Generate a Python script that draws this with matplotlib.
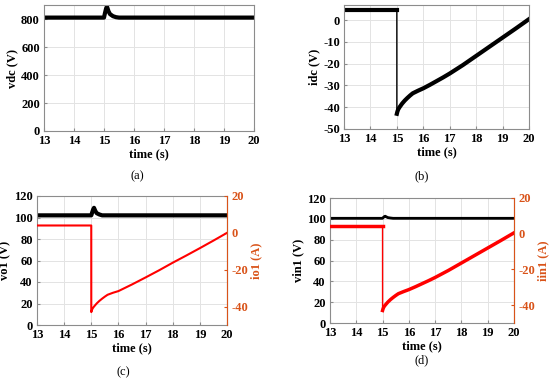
import numpy as np
import matplotlib
matplotlib.use('Agg')
import matplotlib.pyplot as plt

plt.rcParams['font.family'] = ['Liberation Serif', 'DejaVu Serif']
plt.rcParams['font.weight'] = 'bold'
plt.rcParams['axes.labelweight'] = 'bold'
plt.rcParams['axes.unicode_minus'] = False

# (a) dc link voltage
t_vdc = [13, 15.0, 15.03, 15.07, 15.1, 15.15, 15.2, 15.3, 15.4, 15.5, 20]
vdc = [810, 810, 840, 875, 888, 855, 835, 820, 813, 810, 810]

# (b) dc current, (c) io1, (d) iin1
t_i = [13, 14.999, 15.0, 15.02, 15.05, 15.1, 15.2, 15.3, 15.4, 15.5, 15.6,
       15.8, 16, 16.25, 16.5, 16.75, 17, 17.5, 18, 18.5, 19, 19.5, 20]
idc = [4.5, 4.5, -43, -42, -41, -40, -38.3, -36.9, -35.7, -34.6, -33.6,
       -32.4, -31.3, -29.7, -28, -26.3, -24.5, -20.6, -16.4, -12.2, -8,
       -3.8, 0.5]
io1 = [4, 4, -43, -42, -41, -40, -38.3, -36.9, -35.7, -34.6, -33.6,
       -32.5, -31.6, -29.8, -28, -26.1, -24.2, -20.3, -16.2, -12.3, -8.3,
       -4.2, 0]

# (c) output voltage
t_v = [13, 15.0, 15.03, 15.07, 15.1, 15.15, 15.2, 15.3, 15.4, 20]
vo1 = [102, 102, 104.5, 107.5, 109, 106, 104, 102.8, 102, 102]
# (d) input voltage
vin1 = [100.5, 100.5, 101.3, 102.2, 102.5, 101.8, 101.2, 100.8, 100.5, 100.5]

xticks = [13, 14, 15, 16, 17, 18, 19, 20]
orange = '#D95319'
spine_c = '#8c8c8c'
fs = 9

fig = plt.figure(figsize=(5.5, 3.82), dpi=100)
W, H = 550.0, 382.0


def make_ax(l, t, r, b):
    ax = fig.add_axes([l / W, 1 - b / H, (r - l) / W, (b - t) / H])
    ax.set_xlim(13, 20)
    ax.set_xticks(xticks)
    ax.grid(True, color='#e3e3e3', linewidth=0.7)
    ax.set_axisbelow(True)
    for s in ax.spines.values():
        s.set_color(spine_c)
        s.set_linewidth(0.8)
    ax.tick_params(direction='in', length=2.5, color=spine_c, labelsize=fs,
                   pad=3)
    ax.set_xlabel('time (s)', fontsize=fs, labelpad=1)
    return ax


def right_axis(ax, label):
    ax2 = ax.twinx()
    ax2.set_ylim(-50, 20)
    ax2.set_yticks([-40, -20, 0, 20])
    ax2.tick_params(direction='in', length=2.5, colors=orange, labelsize=fs,
                    pad=3)
    ax2.spines['right'].set_color(orange)
    for s in ['left', 'top', 'bottom']:
        ax2.spines[s].set_visible(False)
    ax2.set_ylabel(label, fontsize=fs, color=orange, labelpad=2)
    return ax2


ax = make_ax(44, 5, 254, 131)
ax.plot(t_vdc, vdc, color='black', lw=3)
ax.set_ylim(0, 900)
ax.set_yticks([0, 200, 400, 600, 800])
ax.set_ylabel('vdc (V)', fontsize=fs, labelpad=2)
fig.text(137 / W, 1 - 176 / H, '(a)', ha='center', va='center', fontsize=9,
         fontweight='normal')

ax = make_ax(344, 5, 529, 129)
ax.plot(t_i[:2], idc[:2], color='black', lw=3)
ax.plot(t_i[1:3], idc[1:3], color='black', lw=1)
ax.plot(t_i[2:], idc[2:], color='black', lw=3)
ax.set_ylim(-50, 7)
ax.set_yticks([-50, -40, -30, -20, -10, 0])
ax.set_ylabel('idc (V)', fontsize=fs, labelpad=2)
fig.text(422 / W, 1 - 176 / H, '(b)', ha='center', va='center', fontsize=9,
         fontweight='normal')

ax = make_ax(37, 196, 227, 325)
ax.plot(t_v, vo1, color='black', lw=3)
ax.set_ylim(0, 120)
ax.set_yticks([0, 20, 40, 60, 80, 100, 120])
ax.set_ylabel('vo1 (V)', fontsize=fs, labelpad=2)
ax2 = right_axis(ax, 'io1 (A)')
ax2.plot(t_i, io1, color='red', lw=1.5)
fig.text(123 / W, 1 - 372 / H, '(c)', ha='center', va='center', fontsize=9,
         fontweight='normal')

ax = make_ax(330, 198, 514, 323)
ax.plot(t_v, vin1, color='black', lw=2)
ax.set_ylim(0, 120)
ax.set_yticks([0, 20, 40, 60, 80, 100, 120])
ax.set_ylabel('vin1 (V)', fontsize=fs, labelpad=2)
ax2 = right_axis(ax, 'iin1 (A)')
ax2.plot(t_i[:2], idc[:2], color='red', lw=2.5)
ax2.plot(t_i[1:3], idc[1:3], color='red', lw=1)
ax2.plot(t_i[2:], idc[2:], color='red', lw=2.5)
fig.text(422 / W, 1 - 360 / H, '(d)', ha='center', va='center', fontsize=9,
         fontweight='normal')

fig.savefig('out.png', dpi=100)
